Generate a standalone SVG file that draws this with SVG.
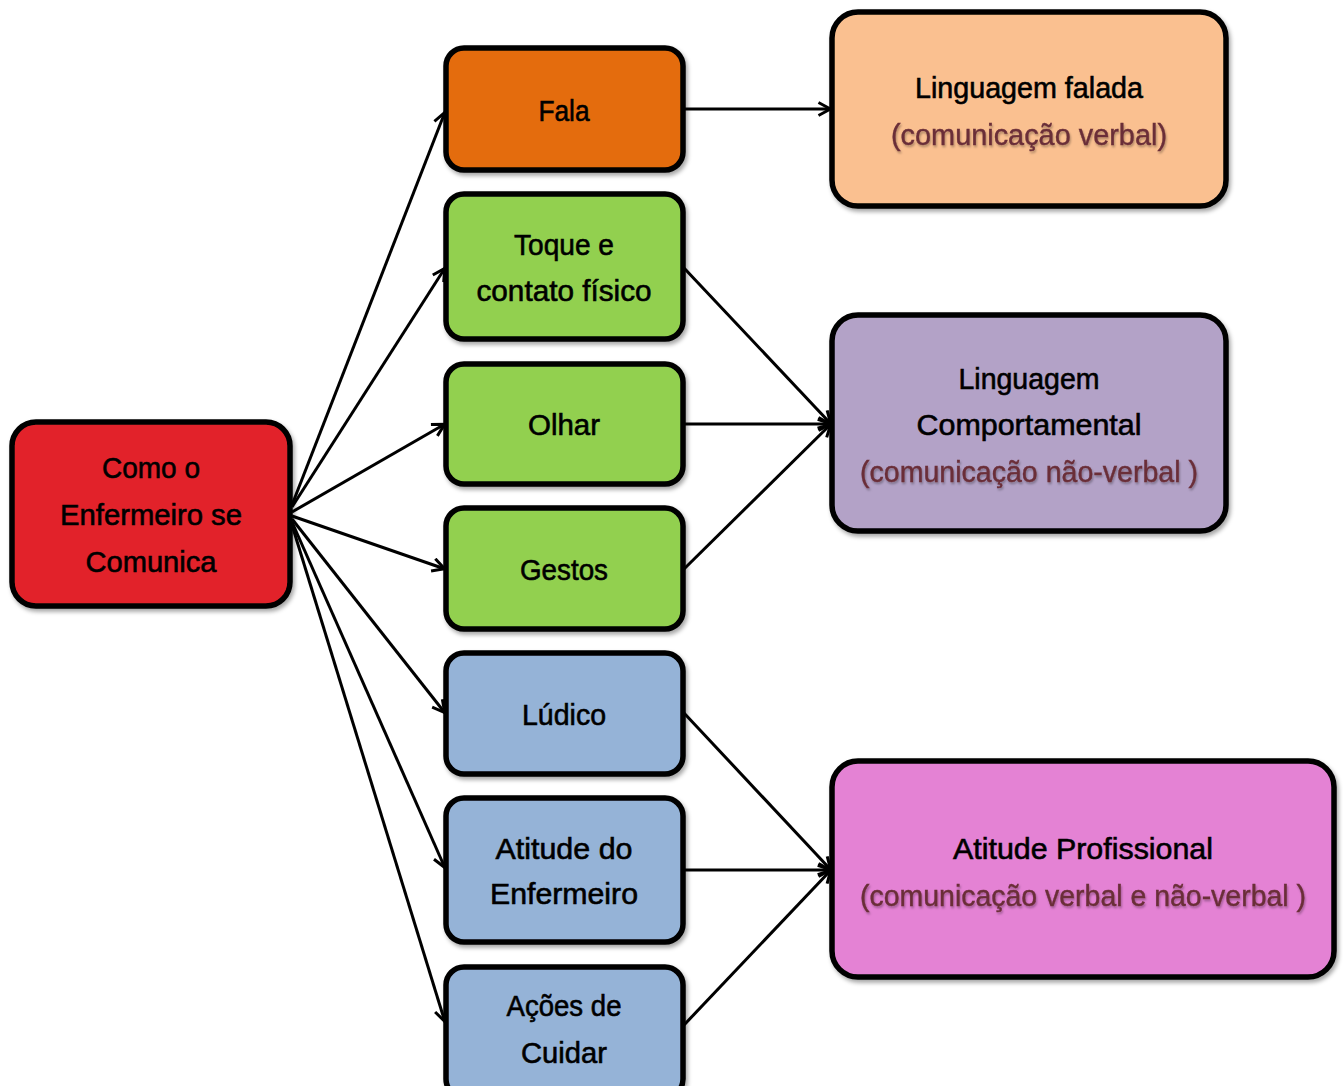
<svg xmlns="http://www.w3.org/2000/svg" width="1343" height="1086" viewBox="0 0 1343 1086">
<defs>
<marker id="arr" viewBox="0 0 16 16" refX="14.5" refY="8" markerWidth="16" markerHeight="16" markerUnits="userSpaceOnUse" orient="auto">
<path d="M2,1.5 L14,8 L2,14.5" fill="none" stroke="#000" stroke-width="3" stroke-linejoin="miter"/>
</marker>
<filter id="sh" x="-10%" y="-10%" width="120%" height="125%">
<feDropShadow dx="2" dy="3" stdDeviation="2" flood-color="#000" flood-opacity="0.35"/>
</filter>
<filter id="tsh" x="-5%" y="-20%" width="110%" height="150%">
<feDropShadow dx="1" dy="2" stdDeviation="1.2" flood-color="#000" flood-opacity="0.3"/>
</filter>
</defs>
<style>
.box{stroke:#000;stroke-width:5.5;filter:url(#sh)}
.t{font-family:"Liberation Sans",Arial,sans-serif;font-size:30px;fill:#000;stroke:#000;stroke-width:0.6;text-anchor:middle}
.s{font-family:"Liberation Sans",Arial,sans-serif;font-size:30px;fill:#6A2E38;stroke:#6A2E38;stroke-width:0.4;text-anchor:middle;filter:url(#tsh)}
.c{fill:none;stroke:#000;stroke-width:3;marker-end:url(#arr)}
</style>
<rect width="1343" height="1086" fill="#fff"/>
<g id="connectors">
<line class="c" x1="292" y1="505" x2="445" y2="112"/>
<line class="c" x1="292" y1="507" x2="445" y2="268"/>
<line class="c" x1="292" y1="512" x2="445" y2="424"/>
<line class="c" x1="292" y1="516" x2="445" y2="569"/>
<line class="c" x1="292" y1="519" x2="445" y2="713"/>
<line class="c" x1="292" y1="522" x2="445" y2="868"/>
<line class="c" x1="292" y1="525" x2="445" y2="1022"/>
<line class="c" x1="684" y1="109" x2="831" y2="109"/>
<line class="c" x1="684" y1="268" x2="831" y2="424"/>
<line class="c" x1="684" y1="424" x2="831" y2="424"/>
<line class="c" x1="684" y1="569" x2="831" y2="424"/>
<line class="c" x1="684" y1="713" x2="831" y2="870"/>
<line class="c" x1="684" y1="870" x2="831" y2="870"/>
<line class="c" x1="684" y1="1025" x2="831" y2="870"/>
</g>
<g id="n-como">
<rect class="box" x="12" y="422" width="278" height="184" rx="24" fill="#E2242A" stroke-width="7"/>
<text class="t" x="151" y="478" textLength="98" lengthAdjust="spacingAndGlyphs">Como o</text>
<text class="t" x="151" y="525" textLength="182" lengthAdjust="spacingAndGlyphs">Enfermeiro se</text>
<text class="t" x="151" y="572" textLength="131" lengthAdjust="spacingAndGlyphs">Comunica</text>
</g>
<g id="n-fala">
<rect class="box" x="446" y="48" width="237" height="122" rx="18" fill="#E46C0A"/>
<text class="t" x="564" y="121" textLength="51" lengthAdjust="spacingAndGlyphs">Fala</text>
</g>
<g id="n-toque">
<rect class="box" x="446" y="194" width="237" height="145" rx="18" fill="#92D050"/>
<text class="t" x="564" y="255" textLength="100" lengthAdjust="spacingAndGlyphs">Toque e</text>
<text class="t" x="564" y="301" textLength="175" lengthAdjust="spacingAndGlyphs">contato físico</text>
</g>
<g id="n-olhar">
<rect class="box" x="446" y="364" width="237" height="120" rx="18" fill="#92D050"/>
<text class="t" x="564" y="435" textLength="72" lengthAdjust="spacingAndGlyphs">Olhar</text>
</g>
<g id="n-gestos">
<rect class="box" x="446" y="508" width="237" height="121" rx="18" fill="#92D050"/>
<text class="t" x="564" y="580" textLength="88" lengthAdjust="spacingAndGlyphs">Gestos</text>
</g>
<g id="n-ludico">
<rect class="box" x="446" y="653" width="237" height="121" rx="18" fill="#95B3D7"/>
<text class="t" x="564" y="725" textLength="84" lengthAdjust="spacingAndGlyphs">Lúdico</text>
</g>
<g id="n-atitude">
<rect class="box" x="446" y="798" width="237" height="144" rx="18" fill="#95B3D7"/>
<text class="t" x="564" y="859" textLength="137" lengthAdjust="spacingAndGlyphs">Atitude do</text>
<text class="t" x="564" y="904" textLength="148" lengthAdjust="spacingAndGlyphs">Enfermeiro</text>
</g>
<g id="n-acoes">
<rect class="box" x="446" y="967" width="237" height="130" rx="18" fill="#95B3D7"/>
<text class="t" x="564" y="1016" textLength="115" lengthAdjust="spacingAndGlyphs">Ações de</text>
<text class="t" x="564" y="1063" textLength="86" lengthAdjust="spacingAndGlyphs">Cuidar</text>
</g>
<g id="n-falada">
<rect class="box" x="832" y="12" width="394" height="194" rx="26" fill="#FAC090"/>
<text class="t" x="1029" y="98" textLength="228" lengthAdjust="spacingAndGlyphs">Linguagem falada</text>
<text class="s" x="1029" y="145" textLength="276" lengthAdjust="spacingAndGlyphs">(comunicação verbal)</text>
</g>
<g id="n-comport">
<rect class="box" x="832" y="315" width="394" height="216" rx="26" fill="#B3A2C7"/>
<text class="t" x="1029" y="389" textLength="141" lengthAdjust="spacingAndGlyphs">Linguagem</text>
<text class="t" x="1029" y="435" textLength="225" lengthAdjust="spacingAndGlyphs">Comportamental</text>
<text class="s" x="1029" y="482" textLength="338" lengthAdjust="spacingAndGlyphs">(comunicação não-verbal )</text>
</g>
<g id="n-prof">
<rect class="box" x="832" y="761" width="502" height="216" rx="26" fill="#E482D4"/>
<text class="t" x="1083" y="859" textLength="260" lengthAdjust="spacingAndGlyphs">Atitude Profissional</text>
<text class="s" x="1083" y="906" textLength="446" lengthAdjust="spacingAndGlyphs">(comunicação verbal e não-verbal )</text>
</g>
</svg>
